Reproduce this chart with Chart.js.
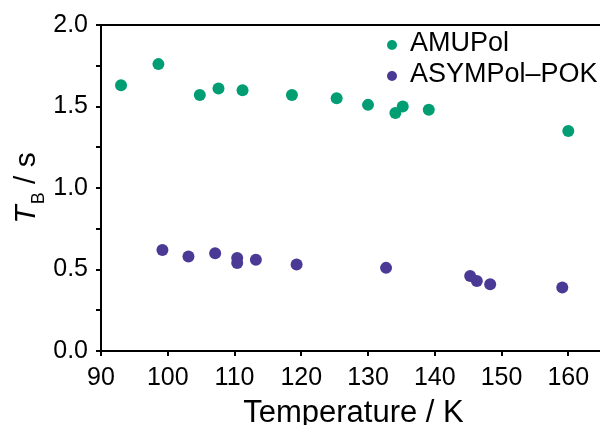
<!DOCTYPE html>
<html>
<head>
<meta charset="utf-8">
<script src="https://cdn.jsdelivr.net/npm/chart.js@4/dist/chart.umd.min.js"></script>
<style>
  html, body { margin: 0; padding: 0; background: #ffffff; }
  #wrap { width: 600px; height: 425px; }
</style>
</head>
<body>
<div id="wrap"><canvas id="c" width="600" height="425"></canvas></div>
<script>
// Data
const seriesNames = ["AMUPol", "ASYMPol\u2013POK"];
const amupolTemp = [93.0, 98.6, 104.8, 107.6, 111.2, 118.6, 125.3, 130.0, 134.1, 135.2, 139.1, 160.0];
const amupolTB   = [1.63, 1.76, 1.57, 1.61, 1.60, 1.57, 1.55, 1.51, 1.46, 1.50, 1.48, 1.35];
const asymTemp = [99.2, 103.1, 107.1, 110.4, 110.4, 113.2, 119.3, 132.7, 145.3, 146.3, 148.3, 159.1];
const asymTB   = [0.62, 0.58, 0.60, 0.57, 0.54, 0.56, 0.53, 0.51, 0.46, 0.43, 0.41, 0.39];
const xTickValues = [90, 100, 110, 120, 130, 140, 150, 160];
const yTickLabels = ["0.0", "0.5", "1.0", "1.5", "2.0"];
const xTitle = "Temperature / K";

const GREEN = "#019e74";
const PURPLE = "#4b3a95";
const FONT = "'Liberation Sans', Arial, sans-serif";

function toPoints(xs, ys) { return xs.map((x, i) => ({ x: x, y: ys[i] })); }

const customDraw = {
  id: "customDraw",
  afterDraw(chart) {
    const ctx = chart.ctx;
    const a = chart.chartArea;
    ctx.save();
    // top frame line
    ctx.strokeStyle = "#000";
    ctx.lineWidth = 2;
    ctx.beginPath();
    ctx.moveTo(a.left - 1, a.top);
    ctx.lineTo(chart.width, a.top);
    ctx.stroke();

    // legend
    const colors = [GREEN, PURPLE];
    const legY = [45, 76];
    ctx.font = "27px " + FONT;
    ctx.textBaseline = "middle";
    ctx.textAlign = "left";
    for (let i = 0; i < seriesNames.length; i++) {
      ctx.fillStyle = colors[i];
      ctx.beginPath();
      ctx.arc(392, legY[i], 5, 0, Math.PI * 2);
      ctx.fill();
      ctx.fillStyle = "#000";
      ctx.fillText(seriesNames[i], 410, legY[i] - 1);
    }

    // x axis title
    ctx.font = "31px " + FONT;
    ctx.textAlign = "center";
    ctx.textBaseline = "alphabetic";
    ctx.fillText(xTitle, (a.left + a.right) / 2 + 3, 421.5);

    // y axis title: T_B / s (italic T, subscript B)
    ctx.textAlign = "left";
    const cy = (a.top + a.bottom) / 2;
    ctx.translate(35, cy);
    ctx.rotate(-Math.PI / 2);
    ctx.fillStyle = "#000";
    const fT = "italic 30px " + FONT;
    const fB = "18px " + FONT;
    const fR = "30px " + FONT;
    ctx.font = fT; const wT = ctx.measureText("T").width;
    ctx.font = fB; const wB = ctx.measureText("B").width;
    ctx.font = fR; const wR = ctx.measureText(" / s").width;
    const total = wT + wB + wR + 1;
    let x = -total / 2;
    ctx.font = fT; ctx.fillText("T", x, 0); x += wT + 1;
    ctx.font = fB; ctx.fillText("B", x, 9); x += wB;
    ctx.font = fR; ctx.fillText(" / s", x, 0);
    ctx.restore();
  }
};

new Chart(document.getElementById("c"), {
  type: "scatter",
  data: {
    datasets: [
      { label: seriesNames[0], data: toPoints(amupolTemp, amupolTB), backgroundColor: GREEN, borderColor: GREEN, pointRadius: 6, borderWidth: 0 },
      { label: seriesNames[1], data: toPoints(asymTemp, asymTB), backgroundColor: PURPLE, borderColor: PURPLE, pointRadius: 6, borderWidth: 0 }
    ]
  },
  options: {
    responsive: false,
    animation: false,
    devicePixelRatio: 1,
    layout: { autoPadding: false, padding: { top: 25, right: 0, left: 0, bottom: 0 } },
    plugins: { legend: { display: false }, tooltip: { enabled: false } },
    scales: {
      x: {
        type: "linear",
        min: 90,
        max: 164.75,
        afterFit(s) { s.height = 74; s.paddingRight = 0; s.paddingLeft = 0; },
        afterBuildTicks(s) { s.ticks = xTickValues.map(v => ({ value: v })); },
        ticks: { color: "#000", font: { family: FONT, size: 25 }, padding: 7, maxRotation: 0, includeBounds: false,
                 callback: v => String(v) },
        grid: { display: true, drawOnChartArea: false, drawTicks: true, tickLength: 5, tickColor: "#000", lineWidth: 2 },
        border: { display: true, color: "#000", width: 2 },
        title: { display: false }
      },
      y: {
        type: "linear",
        min: 0,
        max: 2,
        afterFit(s) { s.width = 101; s.paddingTop = 0; s.paddingBottom = 0; },
        ticks: { stepSize: 0.25, color: "#000", font: { family: FONT, size: 25 }, padding: 8,
                 callback: v => (Math.abs(v * 2 - Math.round(v * 2)) < 1e-9 ? yTickLabels[Math.round(v * 2)] : "") },
        grid: { display: true, drawOnChartArea: false, drawTicks: true, tickLength: 5, tickColor: "#000", lineWidth: 2 },
        border: { display: true, color: "#000", width: 2 }
      }
    }
  },
  plugins: [customDraw]
});
</script>
</body>
</html>
